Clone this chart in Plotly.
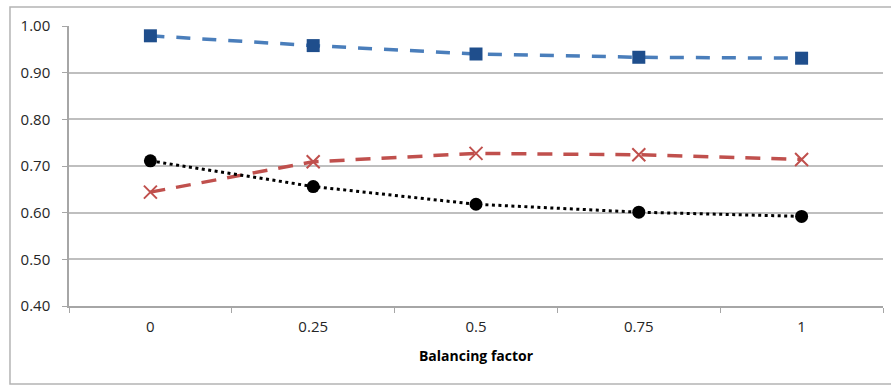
import plotly.graph_objects as go

# Balancing factor categories on the x axis
factors = ["0", "0.25", "0.5", "0.75", "1"]

# Three measured series
series_blue = [0.979, 0.958, 0.940, 0.933, 0.931]
series_red = [0.644, 0.709, 0.727, 0.724, 0.714]
series_black = [0.711, 0.656, 0.618, 0.601, 0.592]

y_ticks = [0.4, 0.5, 0.6, 0.7, 0.8, 0.9, 1.0]

FONT = "Open Sans"
GRID = "#bfbfbf"
AXIS = "#a6a6a6"

fig = go.Figure()

fig.add_trace(go.Scatter(
    x=factors, y=series_blue, mode="lines+markers", name="Series 1",
    line=dict(color="#4A7EBB", width=3.5, dash="14px,12px"),
    marker=dict(symbol="square", size=13, color="#1F4E8C",
                line=dict(width=0)),
))

fig.add_trace(go.Scatter(
    x=factors, y=series_red, mode="lines+markers", name="Series 2",
    line=dict(color="#C0504D", width=3.5, dash="15px,11px"),
    marker=dict(symbol="x-thin-open", size=13, color="#C0504D",
                line=dict(width=2, color="#C0504D")),
))

fig.add_trace(go.Scatter(
    x=factors, y=series_black, mode="lines+markers", name="Series 3",
    line=dict(color="#000000", width=3, dash="3px,3.5px"),
    marker=dict(symbol="circle", size=13, color="#000000",
                line=dict(width=0)),
))

# Light gray frame around the whole chart
fig.add_shape(
    type="rect", xref="paper", yref="paper",
    x0=-0.0725, x1=1.02, y0=-0.279, y1=1.068,
    line=dict(color="#b4b4b4", width=1.5), fillcolor="rgba(0,0,0,0)",
    layer="below",
)

fig.update_layout(
    width=891, height=387,
    margin=dict(l=69, r=8, t=26, b=81),
    paper_bgcolor="white", plot_bgcolor="white",
    showlegend=False,
    font=dict(family=FONT, size=15, color="#262626"),
)

fig.update_xaxes(
    type="category", categoryorder="array", categoryarray=factors,
    range=[-0.5, 4.5],
    showgrid=False, showline=True, linecolor=AXIS, linewidth=1.5,
    ticks="outside", tickson="boundaries", ticklen=5, tickcolor=AXIS,
    tickfont=dict(family=FONT, size=15, color="#262626"),
    ticklabelstandoff=6,
    title=dict(text="<b>Balancing factor</b>",
               font=dict(family=FONT, size=14, color="#000000"),
               standoff=16),
    zeroline=False,
)

fig.update_yaxes(
    range=[0.4, 1.0], tickvals=y_ticks, tickformat=".2f",
    showgrid=True, gridcolor=GRID, gridwidth=1.5,
    showline=True, linecolor=AXIS, linewidth=1.5,
    ticks="outside", ticklen=5, tickcolor=AXIS,
    tickfont=dict(family=FONT, size=15, color="#262626"),
    ticklabelstandoff=9,
    zeroline=False,
)

fig.write_html("out.html")
